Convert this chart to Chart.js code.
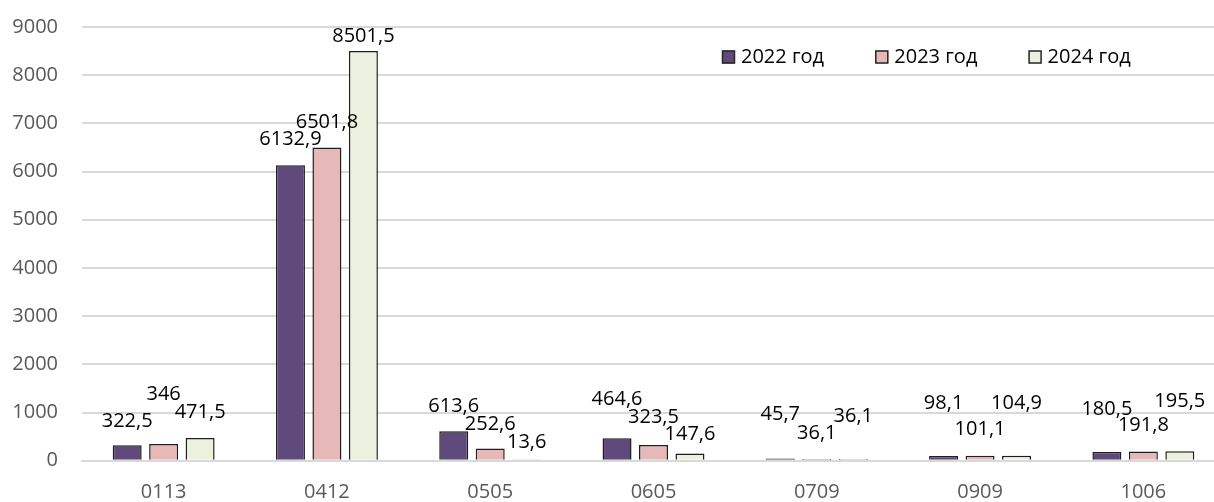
<!DOCTYPE html>
<html>
<head>
<meta charset="utf-8">
<script src="https://cdn.jsdelivr.net/npm/chart.js@4/dist/chart.umd.min.js"></script>
<style>
  html, body { margin: 0; padding: 0; background: #fff; overflow: hidden; }
  #wrap { width: 1226px; height: 502px; position: relative; }
</style>
</head>
<body>
<div id="wrap"><canvas id="chart"></canvas></div>
<script>
  // data
  const categories = ["0113", "0412", "0505", "0605", "0709", "0909", "1006"];
  const seriesNames = ["2022 год", "2023 год", "2024 год"];
  const values2022 = [322.5, 6132.9, 613.6, 464.6, 45.7, 98.1, 180.5];
  const values2023 = [346, 6501.8, 252.6, 323.5, 36.1, 101.1, 191.8];
  const values2024 = [471.5, 8501.5, 13.6, 147.6, 36.1, 104.9, 195.5];
  const yMax = 9000;
  const yStep = 1000;

  // how far (px) each value label sits above its bar, as in the original
  const labelLift = [
    [24, 26, 25, 39, 44, 53, 43],
    [50, 25, 24, 28, 26, 27, 26],
    [26, 15, 18, 19, 43, 52, 50]
  ];

  const fillColors = ["#604a7b", "#e6b9b8", "#ebf1de"];
  const fontFamily = "'Open Sans', 'Liberation Sans', sans-serif";

  const fmt = (v) => String(v).replace(".", ",");

  const valueLabels = {
    id: "valueLabels",
    afterDatasetsDraw(chart) {
      const ctx = chart.ctx;
      ctx.save();
      ctx.font = "20px " + fontFamily;
      ctx.fillStyle = "#000";
      ctx.textAlign = "center";
      ctx.textBaseline = "middle";
      chart.data.datasets.forEach((ds, i) => {
        const meta = chart.getDatasetMeta(i);
        meta.data.forEach((bar, j) => {
          ctx.fillText(fmt(ds.data[j]), bar.x, bar.y - labelLift[i][j]);
        });
      });
      ctx.restore();
    }
  };

  const insideLegend = {
    id: "insideLegend",
    afterDraw(chart) {
      const ctx = chart.ctx;
      ctx.save();
      ctx.font = "20px " + fontFamily;
      ctx.textAlign = "left";
      ctx.textBaseline = "middle";
      const x0 = 722, step = 153.3, y = 57;
      chart.data.datasets.forEach((ds, i) => {
        const x = x0 + i * step;
        ctx.fillStyle = ds.backgroundColor;
        ctx.fillRect(x, y - 6.5, 13, 13);
        ctx.strokeStyle = "#262626";
        ctx.lineWidth = 1.5;
        ctx.strokeRect(x + 0.5, y - 6, 12, 12);
        ctx.fillStyle = "#000";
        ctx.fillText(ds.label, x + 19, y);
      });
      ctx.restore();
    }
  };

  const ctx = document.getElementById("chart").getContext("2d");
  new Chart(ctx, {
    type: "bar",
    data: {
      labels: categories,
      datasets: [values2022, values2023, values2024].map((vals, i) => ({
        label: seriesNames[i],
        data: vals,
        backgroundColor: fillColors[i],
        borderColor: "#1e1e1e",
        borderWidth: 1.5,
        barPercentage: 0.795,
        categoryPercentage: 0.67
      }))
    },
    options: {
      responsive: true,
      maintainAspectRatio: false,
      animation: false,
      layout: { padding: { top: 27, right: 1, left: 0, bottom: 0 } },
      plugins: {
        legend: { display: false },
        tooltip: { enabled: false }
      },
      scales: {
        x: {
          grid: { display: false },
          border: { display: true, color: "#d9d9d9", width: 2 },
          ticks: {
            color: "#595959",
            padding: 12,
            font: { family: fontFamily, size: 20 }
          },
          afterFit(scale) { scale.height = 41.3; }
        },
        y: {
          min: 0,
          max: yMax,
          ticks: {
            stepSize: yStep,
            color: "#595959",
            padding: 24,
            font: { family: fontFamily, size: 20 },
            callback: (v) => String(v)
          },
          grid: { color: "#d9d9d9", lineWidth: 2, drawTicks: false },
          border: { display: false },
          afterFit(scale) {
            scale.width = 82;
            scale.paddingTop = 0;
            scale.paddingBottom = 0;
          }
        }
      }
    },
    plugins: [valueLabels, insideLegend]
  });
</script>
</body>
</html>
